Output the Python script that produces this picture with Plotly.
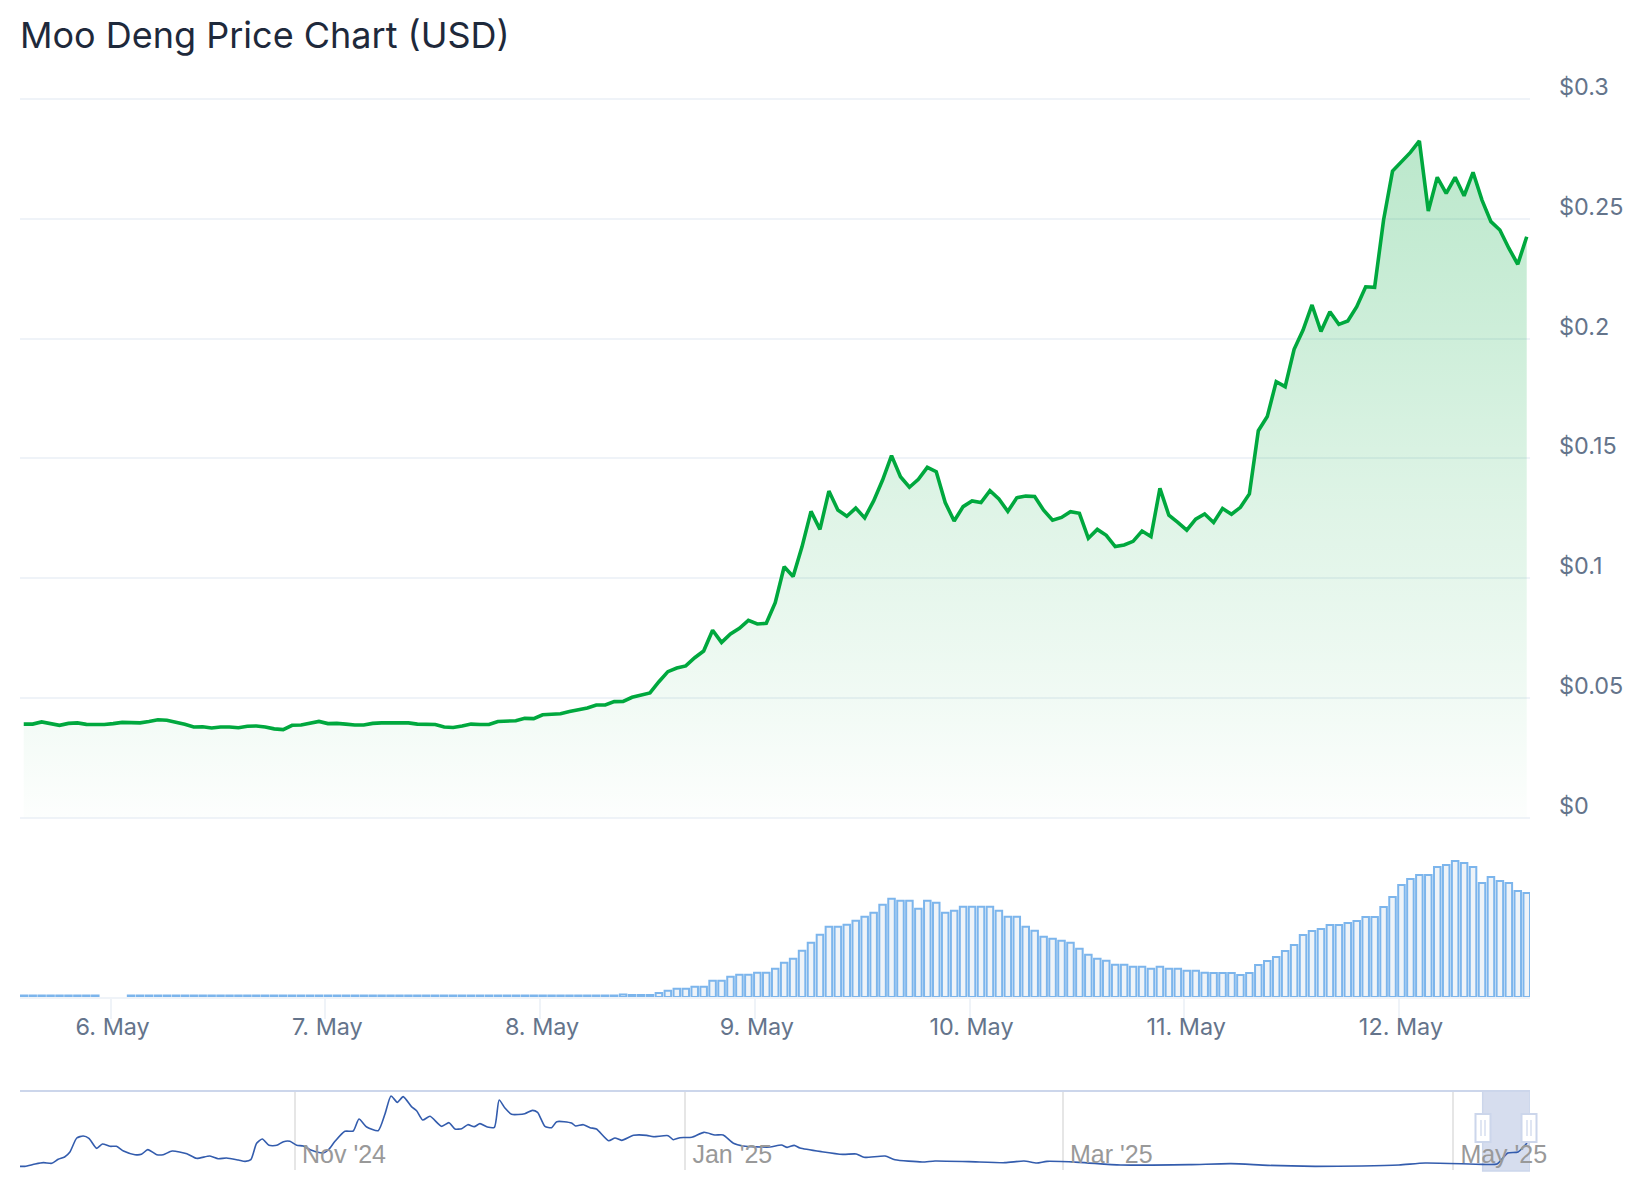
import pandas as pd
import plotly.graph_objects as go

W, H = 1644, 1200

# ---------- data ----------
first_hour = "2025-05-05 14:17"
price = [
 .0390,.0390,.0399,.0393,.0385,.0393,.0395,.0389,.0389,.0388,.0392,.0397,.0396,.0395,.0401,.0408,.0406,.0399,.0389,.0378,
 .0379,.0374,.0378,.0378,.0375,.0381,.0382,.0378,.0370,.0367,.0385,.0386,.0393,.0401,.0392,.0393,.0390,.0386,.0386,.0393,
 .0395,.0395,.0392,.0395,.0390,.0390,.0388,.0378,.0376,.0382,.0390,.0388,.0388,.0401,.0404,.0404,.0414,.0413,.0429,.0432,
 .0433,.0443,.0450,.0457,.0470,.0470,.0484,.0485,.0502,.0511,.0520,.0567,.0609,.0624,.0633,.0667,.0695,.0782,.0731,.0766,
 .0790,.0823,.0808,.0811,.0897,.1047,.1006,.1131,.1278,.1203,.1363,.1284,.1258,.1292,.1251,.1322,.1409,.1511,.1423,.1379,
 .1412,.1462,.1444,.1315,.1238,.1298,.1322,.1315,.1365,.1330,.1278,.1335,.1342,.1340,.1283,.1241,.1253,.1277,.1270,.1166,
 .1203,.1178,.1131,.1138,.1153,.1196,.1173,.1374,.1262,.1232,.1200,.1246,.1267,.1232,.1290,.1266,.1295,.1351,.1615,.1674,
 .1820,.1799,.1955,.2035,.2140,.2029,.2112,.2059,.2073,.2133,.2216,.2214,.2495,.2699,.2738,.2777,.2825,.2532,.2673,.2606,
 .2673,.2596,.2694,.2578,.2488,.2453,.2377,.2310,.2425,
]
volume = [1.5]*9 + [None]*3 + [1.5]*55 + [
 2.5,2,2,2,4,6.3,8.3,8.3,10.3,10.3,16.3,16.3,20.3,22.3,22.3,24.3,24.3,28.3,34.3,38.3,46.3,54.3,62.3,70.3,70.3,72.3,76.3,80.3,
 84.3,92.3,98.3,96.3,96.3,88.3,96.3,94.3,84.3,86.3,90.3,90.3,90.3,90.3,86.3,80.3,80.3,70.3,66.3,60.3,58.3,56.3,54.3,48.3,42.3,
 38.3,36.3,32.3,32.3,30.3,30.3,28.3,30.3,28.3,28.3,26.3,26.3,24.3,24,24,24,22,
 24,32,36,40,46,52,62,66,68,72,72,74,76,80,80,90,100,112,118,122,122,130,132,136,134,130,114,120,116,114,106,104,
]
price_ticks = [0, .05, .1, .15, .2, .25, .3]
price_labels = ["$0", "$0.05", "$0.1", "$0.15", "$0.2", "$0.25", "$0.3"]
day_ticks = ["2025-05-%02d" % d for d in range(6, 13)]

nav_start = "2024-11-01"
nav_days = [
 -43,-42.2,-40.6,-39.3,-38,-37,-36,-35.2,-34.1,-33.1,-32.2,-31,-30.1,-28.9,-27.9,-26.8,-25,-24,-23,-21.6,-20.6,-19.2,-16.9,
 -15.4,-13.3,-12,-10.7,-8.85,-7.8,-6.9,-6,-5.1,-4.06,-2.85,-1.8,-.8,.26,1.3,2.6,4.4,5.2,6.25,7.8,9.1,10,11.2,13,14.06,15,16,16.9,
 18.2,19,19.95,21.1,22.9,24.06,25,26.04,27,28,28.9,30.05,31.15,31.9,32.8,33.85,35.9,37.1,37.9,39.05,40.1,40.9,43.2,43.85,45.05,
 46.1,47.1,49,50,51.05,52.9,54.95,56,58.3,59.1,60.15,62,63.9,65.6,66.9,68.5,70.05,74.2,76,76.9,78,78.9,
 82.3,85.6,87.7,88.9,92.2,93.75,98,100,105.3,110.9,113.9,115.9,117.5,122.5,129,139.7,146.25,152,159.4,166.7,172.5,176.6,185.5,
 187.8,189.5,191.1,192.5,
]
nav_price = [
 .037,.037,.0615,.0755,.0685,.1105,.135,.184,.3345,.3555,.331,.226,.2715,.247,.247,.198,.1595,.163,.212,.1595,.1595,.198,.17,
 .121,.1455,.1175,.1245,.1035,.0895,.107,.2785,.324,.2575,.2575,.296,.2995,.2575,.2505,.205,.177,.2085,.2995,.4045,.408,.534,.45,.4115,.5865,.7755,.709,.7685,
 .6635,.6215,.5235,.562,.457,.4955,.429,.4325,.4745,.4535,.485,.45,.4465,.7335,.6495,.583,.59,.625,.604,.457,.443,.506,.492,.4605,.4745,
 .443,.429,.3065,.3345,.31,.3625,.3625,.3485,.359,.317,.338,.3415,.394,.366,.366,.2785,.2505,.24,.261,.2365,.2575,.2295,
 .191,.163,.1665,.1315,.1455,.107,.0825,.093,.086,.0755,.093,.072,.0895,.079,.051,.0545,.065,.0475,.037,.0405,.051,.072,.058,
 .0615,.177,.1875,.282,
]
nav_ticks = ["2024-11-01", "2025-01-01", "2025-03-01", "2025-05-01"]
nav_labels = ["Nov '24", "Jan '25", "Mar '25", "May '25"]

# ---------- styles ----------
GRID = "#eff3f8"
LABEL = "#64748b"
GREEN = "#00a83e"
BAR_LINE = "#7cb5ec"
BAR_FILL = "#eef3f8"
NAV_LINE = "#335cad"
NAV_BORDER = "#ccd6eb"

def px_x(p): return p / W
def px_y(p): return 1 - p / H

hours = pd.date_range(first_hour, periods=len(price), freq="h")
main_range = [pd.Timestamp("2025-05-05 13:52"), pd.Timestamp("2025-05-12 14:39")]
nav_x = pd.Timestamp(nav_start) + pd.to_timedelta(nav_days, unit="D")
nav_range = [pd.Timestamp(nav_start) - pd.Timedelta(days=42.97), pd.Timestamp(nav_start) + pd.Timedelta(days=192.97)]

fig = go.Figure()
fig.add_trace(go.Scatter(
    x=hours, y=price, mode="lines", xaxis="x", yaxis="y",
    line=dict(color=GREEN, width=3.6, shape="linear"),
    fill="tozeroy",
    fillgradient=dict(type="vertical", start=0.285, stop=0,
                      colorscale=[[0, "rgba(0,168,62,0.27)"], [1, "rgba(0,168,62,0.01)"]]),
    hoverinfo="skip", showlegend=False,
))
fig.add_trace(go.Bar(
    x=hours, y=volume, xaxis="x2", yaxis="y2",
    marker=dict(color=BAR_FILL, line=dict(color=BAR_LINE, width=2)),
    hoverinfo="skip", showlegend=False,
))
fig.add_trace(go.Scatter(
    x=nav_x, y=nav_price, mode="lines", xaxis="x3", yaxis="y3",
    line=dict(color=NAV_LINE, width=1.6, shape="spline", smoothing=0.6),
    hoverinfo="skip", showlegend=False,
))

shapes = [
    dict(type="line", xref="paper", yref="paper", x0=px_x(20), x1=px_x(1530), y0=px_y(1091), y1=px_y(1091),
         line=dict(color=NAV_BORDER, width=2), layer="above"),
    dict(type="rect", xref="x3", yref="paper", x0=main_range[0], x1=nav_range[1], y0=px_y(1171), y1=px_y(1091),
         fillcolor="#d6ddee", line=dict(color=NAV_BORDER, width=1.5), layer="below"),
]
for cx in (1483, 1529):
    shapes.append(dict(type="rect", xref="paper", yref="paper",
                       x0=px_x(cx - 7.5), x1=px_x(cx + 7.5), y0=px_y(1142), y1=px_y(1114),
                       fillcolor="white", line=dict(color=NAV_BORDER, width=2), layer="above"))
    for dx in (-2, 2):
        shapes.append(dict(type="line", xref="paper", yref="paper",
                           x0=px_x(cx + dx), x1=px_x(cx + dx), y0=px_y(1136), y1=px_y(1120),
                           line=dict(color=NAV_BORDER, width=1.2), layer="above"))

dom_x = [px_x(20), px_x(1530)]
PAD = 0.002                         # keeps the $0 and $0.3 grid lines off the axis edge
PAD_PX = PAD / 0.3 * 718.5
fig.update_layout(
    width=W, height=H, margin=dict(l=0, r=0, t=0, b=0, pad=0, autoexpand=False),
    paper_bgcolor="white", plot_bgcolor="rgba(0,0,0,0)",
    font=dict(family="Inter", color=LABEL),
    bargap=0.27, showlegend=False, shapes=shapes,
    title=dict(text="Moo Deng Price Chart (USD)", x=px_x(20), xanchor="left", y=px_y(35), yanchor="middle",
               font=dict(family="Inter", size=36, color="#1e293b")),
    xaxis=dict(domain=dom_x, range=main_range, type="date", anchor="y", showgrid=False, showticklabels=False,
               ticks="", zeroline=False, showline=False),
    yaxis=dict(domain=[px_y(817.5 + PAD_PX), px_y(99 - PAD_PX)], range=[-PAD, 0.3 + PAD], side="right", anchor="x",
               tickvals=price_ticks, ticktext=price_labels, gridcolor=GRID, gridwidth=2, zeroline=False,
               showline=False, ticks="", tickfont=dict(family="Inter", size=23.4, color=LABEL),
               ticklabelshift=-12, ticklabelstandoff=28),
    xaxis2=dict(domain=dom_x, range=main_range, type="date", anchor="y2", showgrid=False,
                tickvals=day_ticks, tickformat="%-d. %b", ticks="outside", ticklen=20, tickwidth=2, tickcolor=GRID,
                showline=True, linecolor=GRID, linewidth=2, zeroline=False,
                tickfont=dict(family="Inter", size=23.4, color=LABEL), ticklabelstandoff=-12, ticklabelshift=2),
    yaxis2=dict(domain=[px_y(997), px_y(827)], range=[0, 170], anchor="x2", showgrid=False,
                showticklabels=False, ticks="", zeroline=False, showline=False),
    xaxis3=dict(domain=dom_x, range=nav_range, type="date", anchor="y3", showgrid=True,
                gridcolor="#e6e6e6", gridwidth=1.5, tickvals=nav_ticks, ticktext=nav_labels,
                ticks="", showline=False, zeroline=False,
                ticklabelposition="outside right", ticklabelstandoff=-33, ticklabelshift=7,
                tickfont=dict(family="Liberation Sans", size=25, color="#999999")),
    yaxis3=dict(domain=[px_y(1170), px_y(1092)], range=[-0.0015, 0.8175], anchor="x3", showgrid=False,
                showticklabels=False, ticks="", zeroline=False, showline=False),
)

fig.write_html("out.html", post_script="document.body.style.margin='0';document.body.style.overflow='hidden';",
               config={"displayModeBar": False})
